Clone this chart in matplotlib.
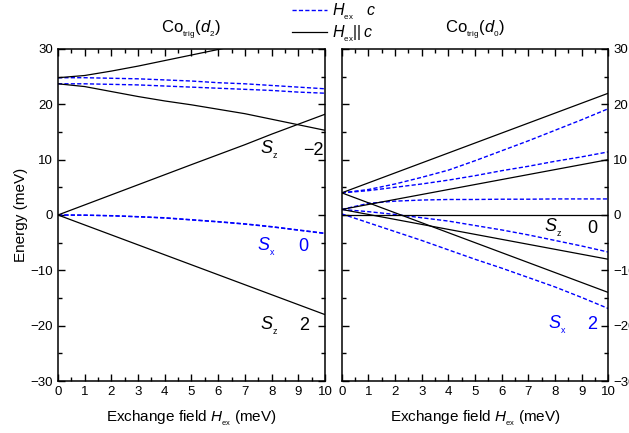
import matplotlib
matplotlib.use("Agg")
import matplotlib.pyplot as plt
from matplotlib.lines import Line2D
from matplotlib.ticker import MultipleLocator

plt.rcParams.update({
    "font.family": "Liberation Sans",
    "mathtext.fontset": "custom",
    "mathtext.rm": "Liberation Sans",
    "mathtext.it": "Liberation Sans:italic",
    "font.size": 9,
    "xtick.direction": "in",
    "ytick.direction": "in",
    "xtick.top": True,
    "ytick.right": True,
})

BLUE = "#0000ff"
INK = "black"

# Exchange field (meV)
HEX = [0, 1, 2, 3, 4, 5, 6, 7, 8, 9, 10]

# Co_trig(d2): H_ex || c
D2_PAR = [
    [24.8, 25.2, 26.0, 26.9, 27.9, 28.9, 29.9, 30.9, 31.9, 32.9, 33.9],
    [23.7, 23.2, 22.3, 21.4, 20.6, 19.9, 19.1, 18.3, 17.3, 16.3, 15.3],
    [0.0, 1.82, 3.64, 5.46, 7.28, 9.1, 10.9, 12.7, 14.6, 16.4, 18.2],
    [0.0, -1.8, -3.6, -5.4, -7.2, -9.0, -10.8, -12.6, -14.4, -16.2, -18.0],
]
# Co_trig(d2): H_ex perpendicular to c
D2_PERP = [
    [24.8, 24.8, 24.7, 24.6, 24.4, 24.2, 23.9, 23.7, 23.4, 23.1, 22.8],
    [23.7, 23.7, 23.6, 23.5, 23.3, 23.1, 22.9, 22.7, 22.5, 22.2, 22.0],
    [0.0, -0.03, -0.12, -0.3, -0.5, -0.85, -1.2, -1.6, -2.1, -2.7, -3.3],
    [0.0, -0.04, -0.15, -0.33, -0.55, -0.9, -1.25, -1.65, -2.15, -2.75, -3.35],
]

# Co_trig(d0): H_ex || c
D0_PAR = [
    [4.0, 5.8, 7.6, 9.4, 11.2, 13.0, 14.8, 16.6, 18.4, 20.2, 22.0],
    [1.0, 1.9, 2.8, 3.7, 4.6, 5.5, 6.4, 7.3, 8.2, 9.1, 10.0],
    [0.0, 0.0, 0.0, 0.0, 0.0, 0.0, 0.0, 0.0, 0.0, 0.0, 0.0],
    [1.0, 0.1, -0.8, -1.7, -2.6, -3.5, -4.4, -5.3, -6.2, -7.1, -8.0],
    [4.0, 2.2, 0.4, -1.4, -3.2, -5.0, -6.8, -8.6, -10.4, -12.2, -14.0],
]
# Co_trig(d0): H_ex perpendicular to c
D0_PERP = [
    [4.0, 4.6, 5.6, 6.8, 8.1, 9.8, 11.6, 13.4, 15.3, 17.2, 19.2],
    [4.0, 4.4, 5.0, 5.6, 6.3, 7.1, 8.0, 8.8, 9.7, 10.5, 11.4],
    [1.0, 2.1, 2.5, 2.7, 2.8, 2.8, 2.85, 2.85, 2.9, 2.9, 2.9],
    [1.0, 0.6, 0.1, -0.5, -1.1, -1.9, -2.7, -3.6, -4.6, -5.6, -6.7],
    [0.2, -1.4, -3.0, -4.6, -6.3, -8.0, -9.6, -11.3, -13.0, -14.9, -16.9],
]

DASH = (0, (3, 1.6))

fig = plt.figure(figsize=(6.29, 4.33), dpi=100)
ax1 = fig.add_axes([0.0922, 0.120, 0.4245, 0.767])
ax2 = fig.add_axes([0.5433, 0.120, 0.4238, 0.767])


def style_axes(ax):
    ax.set_xlim(0, 10)
    ax.set_ylim(-30, 30)
    ax.xaxis.set_major_locator(MultipleLocator(1))
    ax.xaxis.set_minor_locator(MultipleLocator(0.5))
    ax.yaxis.set_major_locator(MultipleLocator(10))
    ax.yaxis.set_minor_locator(MultipleLocator(5))
    ax.tick_params(which="major", length=5, width=1.0, labelsize=9.5)
    ax.tick_params(which="minor", length=3, width=1.0)
    for sp in ax.spines.values():
        sp.set_linewidth(1.1)
    ax.set_xlabel(r"Exchange field $H_{_{\mathrm{ex}}}$ (meV)", fontsize=11, labelpad=8)


def state_label(ax, x_s, x_v, y, sub, val, color):
    ax.text(x_s, y, rf"$S_{{_{{\mathrm{{{sub}}}}}}}$", fontsize=13, color=color,
            ha="center", va="center")
    ax.text(x_v, y, val, fontsize=13, color=color, ha="center", va="center")


for ys in D2_PERP:
    ax1.plot(HEX, ys, color=BLUE, lw=1.0, ls=DASH)
for ys in D2_PAR:
    ax1.plot(HEX, ys, color=INK, lw=0.9)
style_axes(ax1)
ax1.set_ylabel("Energy (meV)", fontsize=11, labelpad=2)
ax1.set_title(r"Co$_{_{\mathrm{trig}}}$($d_{_2}$)", fontsize=12, pad=11)
state_label(ax1, 7.9, 9.55, 11.7, "z", "\u22122", INK)
state_label(ax1, 7.8, 9.2, -5.7, "x", "0", BLUE)
state_label(ax1, 7.9, 9.2, -20.0, "z", "2", INK)

for ys in D0_PERP:
    ax2.plot(HEX, ys, color=BLUE, lw=1.0, ls=DASH)
for ys in D0_PAR:
    ax2.plot(HEX, ys, color=INK, lw=0.9)
style_axes(ax2)
ax2.tick_params(axis="y", labelleft=False, labelright=True)
ax2.set_title(r"Co$_{_{\mathrm{trig}}}$($d_{_0}$)", fontsize=12, pad=11)
state_label(ax2, 7.93, 9.4, -2.4, "z", "0", INK)
state_label(ax2, 8.1, 9.4, -19.8, "x", "2", BLUE)

handles = [
    Line2D([], [], color=BLUE, lw=1.0, ls=DASH),
    Line2D([], [], color=INK, lw=0.9),
]
labels = [r"$H_{_{\mathrm{ex}}}$   $c$", r"$H_{_{\mathrm{ex}}}||\,c$"]
fig.legend(handles, labels, loc="upper left", bbox_to_anchor=(0.449, 1.018),
           frameon=False, fontsize=11.5, handlelength=2.2, handletextpad=0.3,
           labelspacing=0.08, borderaxespad=0.2)

fig.savefig("out.png", dpi=100)
